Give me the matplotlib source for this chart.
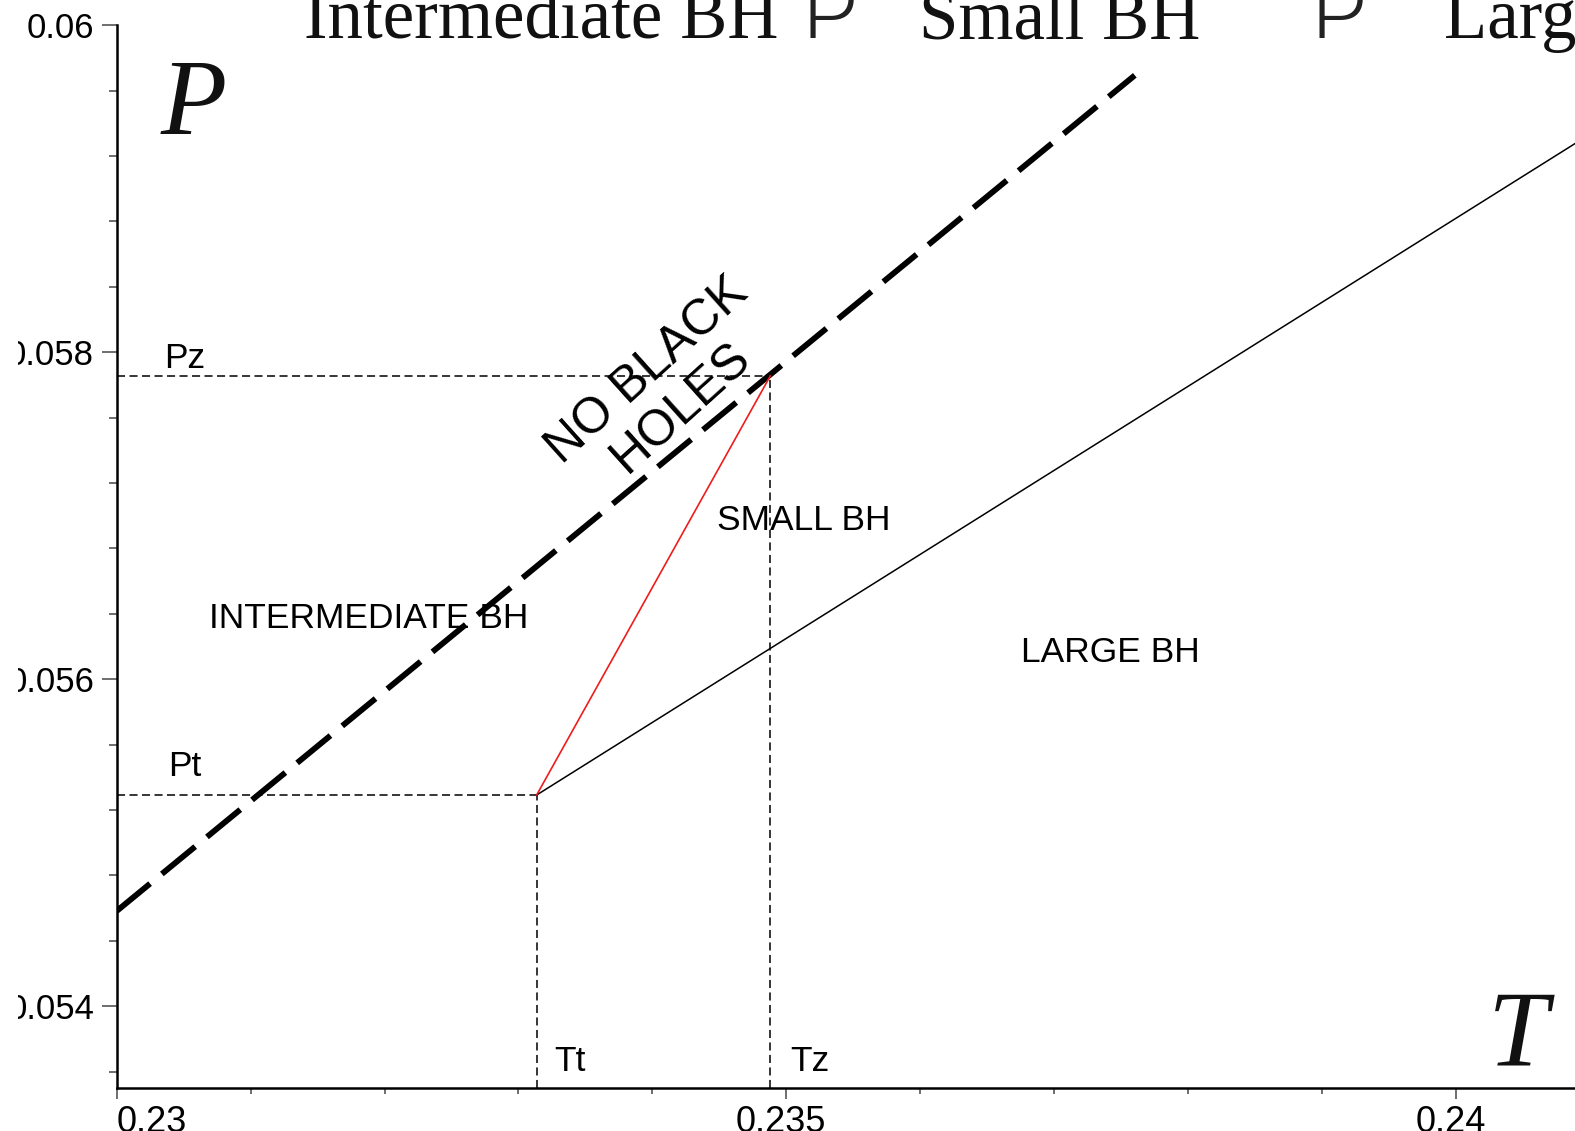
import matplotlib
matplotlib.use("Agg")
import matplotlib.pyplot as plt
from matplotlib.ticker import FixedLocator, MultipleLocator
from matplotlib.transforms import Bbox, TransformedBbox, ScaledTranslation

plt.rcParams['lines.scale_dashes'] = False

# triple point (t) and zero-order transition point (z)
Tt, Pt = 0.233136, 0.055292
Tz, Pz = 0.234881, 0.057855

# boundary of the "no black holes" region
nbh_T = [0.23, 0.237604]
nbh_P = [0.054583, 0.059694]

# small/large coexistence line and intermediate/small line
sl_T = [Tt, 0.241]
sl_P = [Pt, 0.059332]
is_T = [Tt, Tz]
is_P = [Pt, Pz]

xticks = [0.23, 0.235, 0.24]
xlabels = ["0.23", "0.235", "0.24"]
yticks = [0.054, 0.056, 0.058, 0.06]
ylabels = ["0.054", "0.056", "0.058", "0.06"]

sans = "Liberation Sans"
serif = "Liberation Serif"

fig = plt.figure(figsize=(15.75, 11.31), dpi=100)
ax = fig.add_axes([0.07416, 0.03802, 0.92584, 0.93961])
ax.set_xlim(0.23, 0.240892)
ax.set_ylim(0.0535, 0.06)

# dashed guide lines to the axes
thin = (0, (5.8, 3.2))
ax.plot([0.23, Tt], [Pt, Pt], color='k', lw=1.1, ls=thin)
ax.plot([Tt, Tt], [0.0535, Pt], color='k', lw=1.1, ls=thin)
ax.plot([0.23, Tz], [Pz, Pz], color='k', lw=1.1, ls=thin)
ax.plot([Tz, Tz], [0.0535, Pz], color='k', lw=1.1, ls=thin)

ax.plot(nbh_T, nbh_P, color='k', lw=4.2, ls=(0, (31, 11)), solid_capstyle='butt',
        dash_capstyle='butt')
ax.plot(sl_T, sl_P, color='k', lw=1.1)
ax.plot(is_T, is_P, color='#ee1c1c', lw=1.2)

# spines and ticks
for s in ['top', 'right']:
    ax.spines[s].set_visible(False)
for s in ['left', 'bottom']:
    ax.spines[s].set_linewidth(1.8)

ax.xaxis.set_major_locator(FixedLocator(xticks))
ax.xaxis.set_minor_locator(MultipleLocator(0.001))
ax.yaxis.set_major_locator(FixedLocator(yticks))
ax.yaxis.set_minor_locator(MultipleLocator(0.0004))
ax.set_xticklabels(xlabels, fontsize=26, family=sans)
ax.set_yticklabels(ylabels, fontsize=25, family=sans)
ax.tick_params(axis='x', which='major', length=8, width=1.2, color='#555', pad=4.5)
ax.tick_params(axis='x', which='minor', length=4, width=1.2, color='#555')
ax.tick_params(axis='y', which='major', length=11, width=1.2, color='#555', pad=5.4)
ax.tick_params(axis='y', which='minor', length=6, width=1.2, color='#555')

xl = ax.get_xticklabels()
xl[0].set_horizontalalignment('left')
for lbl in xl[1:]:
    lbl.set_transform(lbl.get_transform() + ScaledTranslation(-0.05, 0, fig.dpi_scale_trans))

# the y labels are trimmed at a fixed left margin
clip = TransformedBbox(Bbox([[18 / 1575, 0], [1, 1]]), fig.transFigure)
for lbl in ax.get_yticklabels():
    lbl.set_clip_box(clip)
    lbl.set_clip_on(True)

# point labels
lab = dict(fontsize=25.5, family=sans, ha='left', va='baseline')
ax.text(0.23035, 0.057906, "Pz", **lab)
ax.text(0.23038, 0.055406, "Pt", **lab)
ax.text(0.23327, 0.053606, "Tt", **lab)
ax.text(0.235031, 0.053606, "Tz", **lab)

# phase regions
ax.text(0.234484, 0.056911, "SMALL BH", **lab)
ax.text(0.230688, 0.056315, "INTERMEDIATE BH", **lab)
ax.text(0.236757, 0.056106, "LARGE BH", **lab)
ax.text(0.234090, 0.057774, "NO BLACK\nHOLES", fontsize=36, family=sans,
        rotation=42, rotation_mode='anchor', ha='center', va='center',
        multialignment='center', linespacing=1.1)

# axis symbols
ax.text(0.230328, 0.059338, "P", fontsize=78, family=serif, style='italic',
        color='#111', ha='left', va='baseline')
ax.text(0.240240, 0.053642, "T", fontsize=78, family=serif, style='italic',
        color='#111', ha='left', va='baseline')

# sequence of phases along the top
ty = 1 - 38.2 / 1131
top = dict(fontsize=51, family=serif, color='#111', va='baseline')
arrow = dict(fontsize=74, family=['DejaVu Sans'], fontweight='ultralight',
             va='baseline', color='#222')
fig.text(0.1933, ty, "Intermediate BH", **top)
fig.text(0.5063, ty, "Þ", **arrow)
fig.text(0.5836, ty, "Small BH", **top)
fig.text(0.8298, ty, "Þ", **arrow)
fig.text(0.9171, ty, "Large BH", **top)

fig.savefig("out.png", dpi=100)
